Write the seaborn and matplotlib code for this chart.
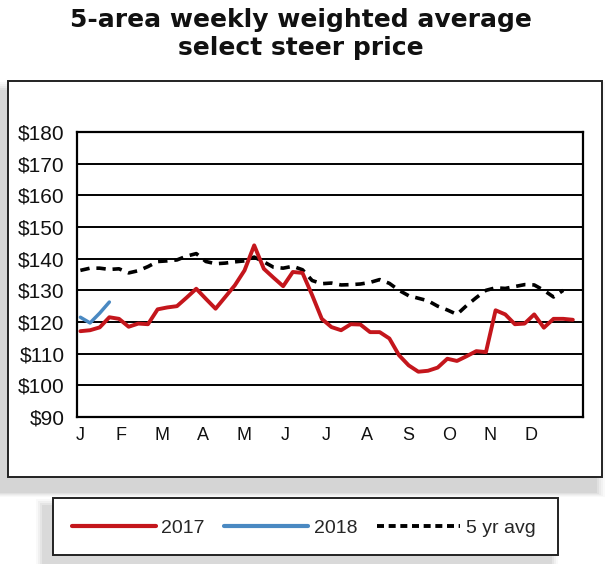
import numpy as np
import pandas as pd
import seaborn as sns
import matplotlib
matplotlib.use("Agg")
import matplotlib.pyplot as plt
from matplotlib.patches import Rectangle
from matplotlib.lines import Line2D

# ---- data (weekly) ----
price_2017 = [117.1, 117.4, 118.3, 121.5, 121.0, 118.5, 119.5, 119.3, 124.0, 124.6,
              125.0, 127.7, 130.5, 127.3, 124.2, 127.9, 131.6, 136.3, 144.2, 136.8,
              134.0, 131.3, 135.8, 135.5, 128.5, 121.0, 118.4, 117.4, 119.3, 119.2,
              116.8, 116.8, 114.8, 109.5, 106.3, 104.3, 104.6, 105.6, 108.4, 107.7,
              109.2, 110.8, 110.5, 123.7, 122.4, 119.3, 119.5, 122.4, 118.2, 121.0,
              121.0, 120.7]
price_2018 = [121.5, 119.7, 122.8, 126.3]
avg_5yr = [136.3, 137.0, 137.0, 136.6, 136.8, 135.5, 136.2, 137.5, 139.1, 139.3,
           139.6, 140.8, 141.6, 139.1, 138.4, 138.6, 139.0, 139.3, 140.5, 139.0,
           137.3, 137.0, 137.6, 136.5, 133.1, 132.1, 132.3, 131.7, 131.8, 132.0,
           132.5, 133.4, 132.2, 130.0, 128.3, 127.5, 126.7, 125.0, 123.8, 122.4,
           125.2, 127.7, 130.0, 130.8, 130.6, 131.2, 131.8, 131.7, 130.0, 127.9,
           130.0]
month_labels = ["J", "F", "M", "A", "M", "J", "J", "A", "S", "O", "N", "D"]
y_ticks = [90, 100, 110, 120, 130, 140, 150, 160, 170, 180]
y_tick_labels = ["$" + str(v) for v in y_ticks]
series_names = ["2017", "2018", "5 yr avg"]

sns.set_theme(style="white")
plt.rcParams["font.family"] = ["Liberation Sans", "DejaVu Sans"]

W, H = 610, 564
fig = plt.figure(figsize=(W / 100, H / 100), dpi=100)
fig.patch.set_facecolor("white")

def fx(px):
    return px / W

def fy(py):
    return 1 - py / H

def frect(x0, y0, x1, y1, **kw):
    # rectangle in pixel coords (top-left origin)
    return Rectangle((fx(x0), fy(y1)), (x1 - x0) / W, (y1 - y0) / H,
                     transform=fig.transFigure, **kw)

# outer box soft shadow (down-left)
for k, a in enumerate([0.04, 0.05, 0.06, 0.08, 0.09]):
    g = 8 - k * 2
    fig.patches.append(frect(0 - g, 90 - g, 597 + g, 493 + g * 0.5,
                             facecolor="#707070", alpha=a, edgecolor="none", zorder=0))
fig.patches.append(frect(8, 81, 602, 477, facecolor="white",
                         edgecolor="#222222", linewidth=1.4, zorder=1))

# legend box soft shadow + box
for k, a in enumerate([0.04, 0.06, 0.08, 0.10]):
    g = 6 - k * 2
    fig.patches.append(frect(42 - g, 505 - g, 552 + g, 566,
                             facecolor="#707070", alpha=a, edgecolor="none", zorder=0))
fig.patches.append(frect(52.5, 498, 558, 555, facecolor="white",
                         edgecolor="#222222", linewidth=1.4, zorder=1))

# title
fig.text(0.493, fy(27), "5-area weekly weighted average", ha="center", va="baseline",
         fontsize=18, fontweight="bold", family="DejaVu Sans", color="#111111")
fig.text(0.493, fy(55), "select steer price", ha="center", va="baseline",
         fontsize=18, fontweight="bold", family="DejaVu Sans", color="#111111")

# axes
ax = fig.add_axes([fx(77), fy(417), fx(582.5 - 77), (417 - 132) / H])
ax.set_zorder(2)
ax.patch.set_alpha(0)

df17 = pd.DataFrame({"week": np.arange(len(price_2017)), "price": price_2017})
df18 = pd.DataFrame({"week": np.arange(len(price_2018)), "price": price_2018})
dfav = pd.DataFrame({"week": np.arange(len(avg_5yr)), "price": avg_5yr})

red = "#C4161C"
blue = "#4A89C2"
sns.lineplot(data=dfav, x="week", y="price", ax=ax, color="black", lw=2.6,
             linestyle=(0, (2.6, 1.9)), zorder=3)
sns.lineplot(data=df17, x="week", y="price", ax=ax, color=red, lw=2.8, zorder=4)
sns.lineplot(data=df18, x="week", y="price", ax=ax, color=blue, lw=2.5, zorder=5)

ax.set_xlim(-0.35, 52.0)
ax.set_ylim(90, 180)
ax.set_yticks(y_ticks)
ax.set_yticklabels(y_tick_labels, fontsize=15, color="#111111")
month_pos = [m * 4.24 for m in range(12)]
ax.set_xticks(month_pos)
ax.set_xticklabels(month_labels, fontsize=13, color="#111111")
ax.tick_params(axis="y", length=2, width=1.4, color="black", pad=7)
ax.tick_params(axis="x", length=0, pad=7)
ax.grid(axis="y", color="black", lw=1.4)
ax.grid(axis="x", visible=False)
for s in ax.spines.values():
    s.set_visible(True)
    s.set_color("black")
    s.set_linewidth(1.6)
ax.set_xlabel("")
ax.set_ylabel("")

# legend
handles = [Line2D([], [], color=red, lw=3),
           Line2D([], [], color=blue, lw=3),
           Line2D([], [], color="black", lw=2.8, linestyle=(0, (1.8, 1.2)))]
leg = fig.legend(handles, series_names, loc="center", bbox_to_anchor=(fx(304), fy(528)),
                 ncol=3, frameon=False, fontsize=14, handlelength=4.3,
                 handletextpad=0.3, columnspacing=1.0, borderpad=0, borderaxespad=0)
leg.set_zorder(3)

fig.savefig("out.png", dpi=100)
